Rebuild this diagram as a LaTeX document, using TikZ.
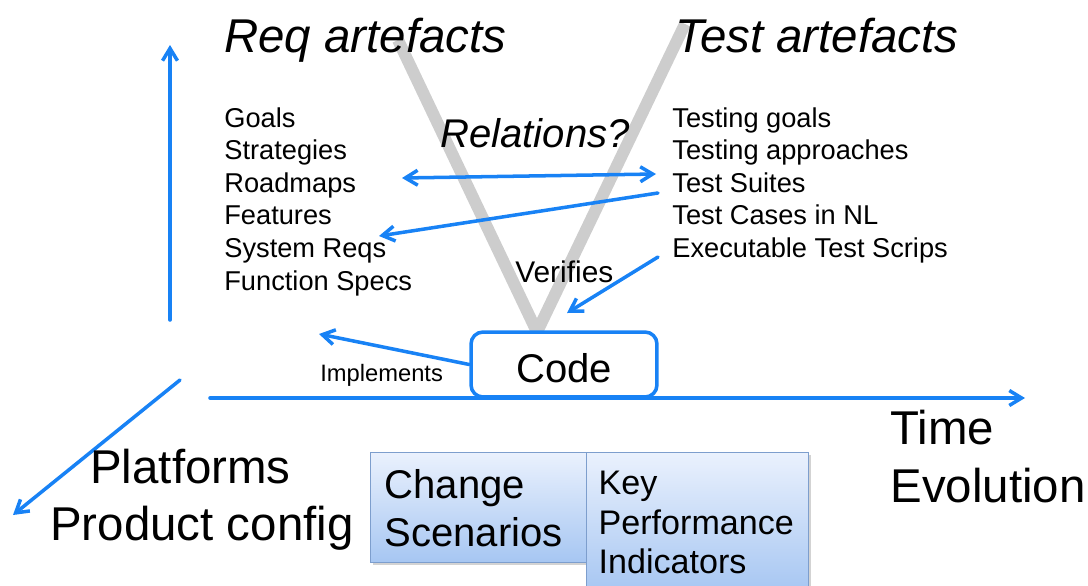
\documentclass[tikz,border=0pt]{standalone}
\usepackage{fontspec}
\setmainfont{Liberation Sans}
\usetikzlibrary{arrows.meta,shadows}

\definecolor{axisblue}{RGB}{24,130,245}
\definecolor{vgray}{RGB}{205,205,205}
\definecolor{boxtop}{RGB}{234,241,253}
\definecolor{boxbottom}{RGB}{166,198,242}
\definecolor{boxedge}{RGB}{125,158,205}

\def\lw{2pt}
\def\vw{6.8pt}
\def\listfont{\fontsize{15.5}{18.5}\selectfont}
\def\bigfont{\fontsize{27}{32}\selectfont}
\def\midfont{\fontsize{22.8}{27.3}\selectfont}
\def\step{32.6}

\begin{document}
\begin{tikzpicture}[x=0.02cm, y=-0.02cm,
    link/.style={draw=axisblue, line width=\lw, line cap=round,
      -{Straight Barb[length=7pt,width=8.5pt]}},
    item/.style={anchor=base west, inner sep=0pt, font=\listfont},
    heading/.style={anchor=base west, inner sep=0pt, font=\bigfont\itshape},
    caption/.style={anchor=base west, inner sep=0pt, font=\bigfont},
    scenario/.style={draw=boxedge, line width=0.8pt, top color=boxtop,
      bottom color=boxbottom, anchor=north west, align=left, inner ysep=0pt,
      drop shadow={shadow xshift=1.5pt, shadow yshift=-1.5pt, opacity=0.35}}]
  \useasboundingbox (0,0) rectangle (1088,585);

  % the V behind everything
  \draw[vgray, line width=\vw, line join=miter] (398,40) -- (537,332) -- (685,24);

  % axes
  \coordinate (ybot) at (170,320);
  \coordinate (ytop) at (170,45);
  \coordinate (xleft) at (210,398);
  \coordinate (xright) at (1025,398);
  \coordinate (zback) at (180,380);
  \coordinate (zfront) at (13,515);
  \draw[link] (ybot) -- (ytop);
  \draw[link] (xleft) -- (xright);
  \draw[link] (zback) -- (zfront);

  % artefact lists
  \node[heading] (reqhead) at (224,52) {Req artefacts};
  \node[heading] (testhead) at (675,52) {Test artefacts};
  \foreach \t [count=\i] in {Goals, Strategies, Roadmaps, Features, System Reqs, Function Specs}
    \node[item] (req\i) at (224,{94.4+\step*\i}) {\t};
  \foreach \t [count=\i] in {Testing goals, Testing approaches, Test Suites, Test Cases in NL, Executable Test Scrips}
    \node[item] (test\i) at (672,{94.4+\step*\i}) {\t};

  \node[anchor=base west, inner sep=0pt, font=\midfont\itshape] (relations) at (440,147) {Relations?};
  \node[anchor=base west, inner sep=0pt, font=\fontsize{17}{20}\selectfont] (verifies) at (515,282) {Verifies};

  % code
  \node[draw=axisblue, line width=\lw, fill=white, rounded corners=0.24cm,
    minimum width=3.72cm, minimum height=1.3cm, text height=20.3pt, text depth=0pt,
    font=\midfont] (code) at (564,364.5) {Code};
  \node[anchor=base west, inner sep=0pt, font=\fontsize{13.5}{16}\selectfont] (implements) at (320,381.5) {Implements};

  % relations between artefacts
  \coordinate (roadmapend) at (402,178);
  \coordinate (suitesend) at (656,174);
  \coordinate (suitesfrom) at (658,193);
  \coordinate (sysreqend) at (379,236);
  \coordinate (scripfrom) at (658,257);
  \coordinate (codetop) at (567,313);
  \coordinate (implto) at (319,334);
  \draw[link, {Straight Barb[length=7pt,width=8.5pt]}-{Straight Barb[length=7pt,width=8.5pt]}] (roadmapend) -- (suitesend);
  \draw[link] (suitesfrom) -- (sysreqend);
  \draw[link] (scripfrom) -- (codetop);
  \draw[link] (code.west) -- (implto);

  % other dimensions
  \node[caption] (platforms) at (90,483) {Platforms};
  \node[caption] (product) at (50,540) {Product config};
  \node[caption] (time) at (890,444) {Time};
  \node[caption] (evolution) at (890,502) {Evolution};

  % scenario boxes
  \node[scenario, inner xsep=0.28cm, text width=4.04cm, minimum height=2.2cm, font=\midfont]
    (change) at (370,452) {Change\\Scenarios};
  \node[scenario, inner xsep=0.24cm, text width=3.96cm, minimum height=2.8cm,
    font=\fontsize{19.4}{22.5}\selectfont] (kpi) at (586,452) {Key\\Performance\\Indicators};
\end{tikzpicture}
\end{document}
